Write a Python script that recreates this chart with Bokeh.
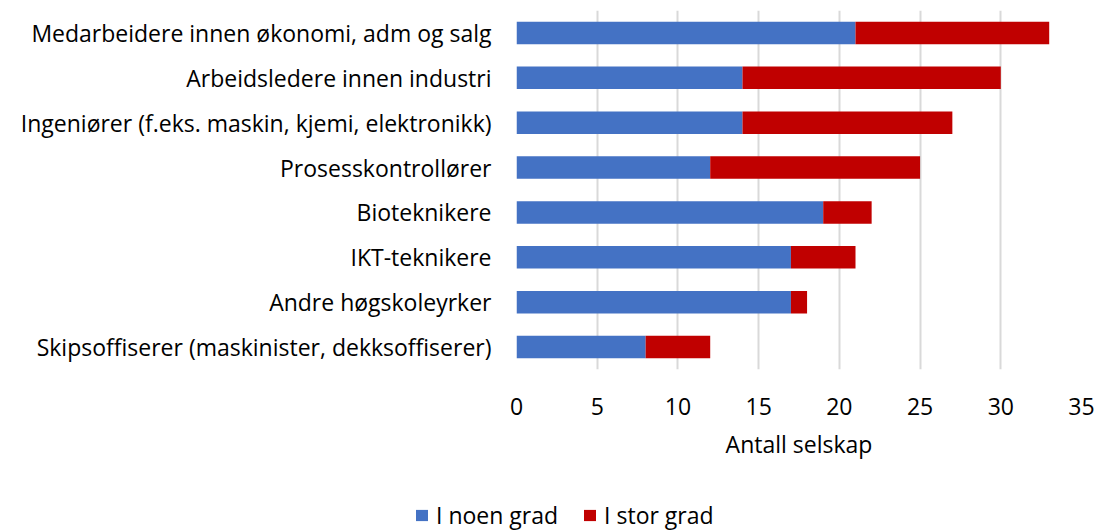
from bokeh.plotting import figure
from bokeh.models import Legend, LegendItem
from bokeh.layouts import column
from bokeh.embed import file_html
from bokeh.resources import INLINE

categories = [
    "Medarbeidere innen økonomi, adm og salg",
    "Arbeidsledere innen industri",
    "Ingeniører (f.eks. maskin, kjemi, elektronikk)",
    "Prosesskontrollører",
    "Bioteknikere",
    "IKT-teknikere",
    "Andre høgskoleyrker",
    "Skipsoffiserer (maskinister, dekksoffiserer)",
]
noen_grad = [21, 14, 14, 12, 19, 17, 17, 8]
stor_grad = [12, 16, 13, 13, 3, 4, 1, 4]
series_names = ["I noen grad", "I stor grad"]
x_ticks = [0, 5, 10, 15, 20, 25, 30, 35]

FONT = "Open Sans"
FS = "23px"
BLUE = "#4472C4"
RED = "#C00000"

data = {"cat": categories, "noen": noen_grad, "stor": stor_grad}

p = figure(
    y_range=list(reversed(categories)),
    x_range=(0, 35),
    frame_width=565, frame_height=359,
    min_border_left=516, min_border_right=23,
    min_border_top=10, min_border_bottom=101,
    output_backend="svg", toolbar_location=None,
)
p.outline_line_color = None

r = p.hbar_stack(["noen", "stor"], y="cat", height=0.5, color=[BLUE, RED],
                 line_color=None, source=data)

p.xaxis.ticker = x_ticks
p.xaxis.axis_line_color = None
p.xaxis.major_tick_line_color = None
p.xaxis.minor_tick_line_color = None
p.xaxis.major_label_text_font = FONT
p.xaxis.major_label_text_font_size = FS
p.xaxis.major_label_text_color = "#000000"
p.xaxis.major_label_standoff = 22
p.xaxis.axis_label = "Antall selskap"
p.xaxis.axis_label_text_font = FONT
p.xaxis.axis_label_text_font_size = FS
p.xaxis.axis_label_text_font_style = "normal"
p.xaxis.axis_label_text_color = "#000000"
p.xaxis.axis_label_standoff = 10

p.yaxis.axis_line_color = None
p.yaxis.major_tick_line_color = None
p.yaxis.minor_tick_line_color = None
p.yaxis.major_label_text_font = FONT
p.yaxis.major_label_text_font_size = FS
p.yaxis.major_label_text_color = "#000000"
p.yaxis.major_label_standoff = 19

p.xgrid.grid_line_color = "#D9D9D9"
p.xgrid.grid_line_width = 2
p.ygrid.grid_line_color = None

# legend strip below the chart (its bars lie outside its range, only the key shows)
lf = figure(
    y_range=list(reversed(categories)),
    x_range=(-10, -9),
    frame_width=1104, frame_height=61,
    min_border=0, x_axis_location=None, y_axis_location=None,
    output_backend="svg", toolbar_location=None,
)
lf.outline_line_color = None
lf.grid.grid_line_color = None
lr = lf.hbar_stack(["noen", "stor"], y="cat", height=0.5, color=[BLUE, RED],
                   line_color=None, source=data)

legend = Legend(
    items=[LegendItem(label=series_names[0], renderers=[lr[0]]),
           LegendItem(label=series_names[1], renderers=[lr[1]])],
    orientation="horizontal",
    location=(414, 0),
    glyph_width=15, glyph_height=14,
    label_text_font=FONT, label_text_font_size=FS,
    label_text_color="#000000",
    label_standoff=7, spacing=24, padding=0, margin=0,
    border_line_color=None, background_fill_alpha=0,
)
lf.add_layout(legend, "center")

layout = column(p, lf, spacing=0)
open("out.html", "w").write(file_html(layout, INLINE))
